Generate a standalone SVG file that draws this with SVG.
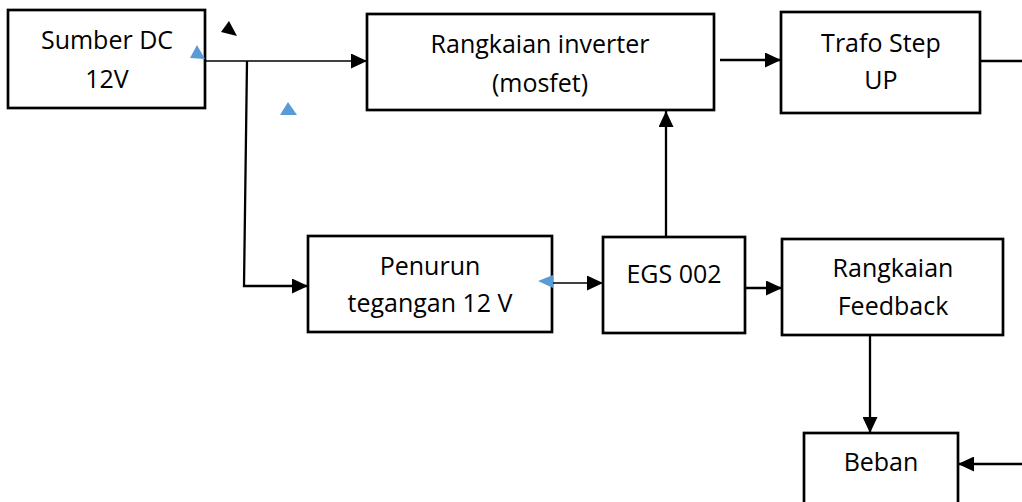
<svg xmlns="http://www.w3.org/2000/svg" width="1022" height="502" viewBox="0 0 1022 502">
  <style>
    .box { fill: #ffffff; stroke: #000000; stroke-width: 2.7; }
    .lbl { font-family: "Open Sans", "Liberation Sans", sans-serif; font-size: 25px; fill: #000000; text-anchor: middle; }
    .wire { fill: none; stroke: #000000; stroke-width: 2.3; }
    .thin { fill: none; stroke: #000000; stroke-width: 1.3; }
    .mark { fill: #5B9BD5; }
  </style>
  <defs>
    <marker id="arrow" viewBox="0 0 16 15" refX="16" refY="7.5" markerWidth="16" markerHeight="15" markerUnits="userSpaceOnUse" orient="auto">
      <path d="M0,0 L16,7.5 L0,15 Z" fill="#000000"/>
    </marker>
  </defs>
  <rect width="1022" height="502" fill="#ffffff"/>

  <!-- connectors -->
  <g id="connectors">
    <path class="thin" d="M205,61 L367,61" marker-end="url(#arrow)"/>
    <path class="wire" d="M247,61 L244,286 L308,286" marker-end="url(#arrow)"/>
    <path class="thin" d="M552,283 L603,283" marker-end="url(#arrow)"/>
    <path class="wire" d="M666,237 L666,111" marker-end="url(#arrow)"/>
    <path class="wire" d="M720,60 L781,60" marker-end="url(#arrow)"/>
    <path class="wire" d="M980,61 L1022,61"/>
    <path class="wire" d="M745,288 L782,288" marker-end="url(#arrow)"/>
    <path class="wire" d="M870,335 L870,433" marker-end="url(#arrow)"/>
    <path class="wire" d="M1022,464 L958,464" marker-end="url(#arrow)"/>
  </g>

  <!-- nodes -->
  <g id="sumber-dc">
    <rect class="box" x="8" y="10" width="197" height="98"/>
    <text class="lbl" x="107" y="49">Sumber DC</text>
    <text class="lbl" x="107" y="88">12V</text>
  </g>
  <g id="inverter">
    <rect class="box" x="367" y="14" width="347" height="96"/>
    <text class="lbl" x="540" y="53">Rangkaian inverter</text>
    <text class="lbl" x="540" y="92">(mosfet)</text>
  </g>
  <g id="trafo">
    <rect class="box" x="781" y="12" width="199" height="101"/>
    <text class="lbl" x="881" y="52">Trafo Step</text>
    <text class="lbl" x="881" y="89">UP</text>
  </g>
  <g id="penurun">
    <rect class="box" x="308" y="236" width="244" height="96"/>
    <text class="lbl" x="430" y="275">Penurun</text>
    <text class="lbl" x="430" y="312">tegangan 12 V</text>
  </g>
  <g id="egs002">
    <rect class="box" x="603" y="237" width="142" height="96"/>
    <text class="lbl" x="674" y="283">EGS 002</text>
  </g>
  <g id="feedback">
    <rect class="box" x="782" y="239" width="221" height="96"/>
    <text class="lbl" x="893" y="277">Rangkaian</text>
    <text class="lbl" x="893" y="315">Feedback</text>
  </g>
  <g id="beban">
    <rect class="box" x="804" y="433" width="154" height="80"/>
    <text class="lbl" x="881" y="471">Beban</text>
  </g>

  <!-- small triangle marks -->
  <polygon class="mark" points="197,45 190,58 205,59"/>
  <polygon points="229,21 221,32 237,36" fill="#000000"/>
  <polygon class="mark" points="288,102 280,115 297,115"/>
  <polygon class="mark" points="538,281 553,275 553,288"/>
</svg>
